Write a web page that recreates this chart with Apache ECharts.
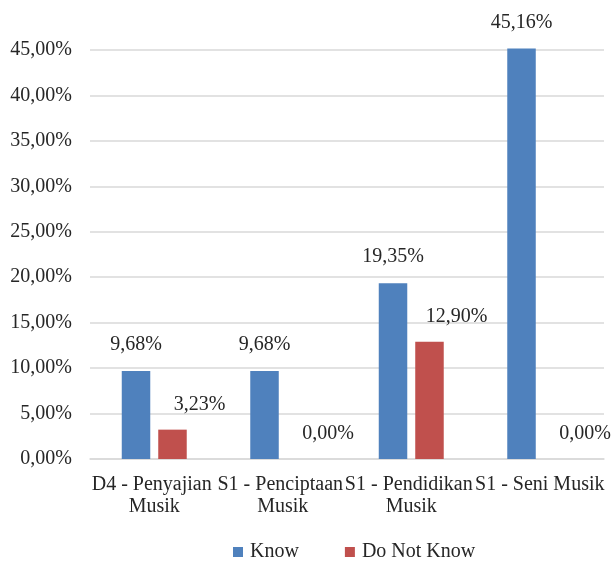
<!DOCTYPE html>
<html>
<head>
<meta charset="utf-8">
<script src="https://cdn.jsdelivr.net/npm/echarts@6/dist/echarts.min.js"></script>
<style>html,body{margin:0;padding:0;background:#fff}#c{width:613px;height:564px}</style>
</head>
<body>
<div id="c"></div>
<script>
const categories = ["D4 - Penyajian Musik", "S1 - Penciptaan Musik", "S1 - Pendidikan Musik", "S1 - Seni Musik"];
const knowValues = [9.68, 9.68, 19.35, 45.16];
const doNotKnowValues = [3.23, 0.00, 12.90, 0.00];
const seriesNames = ["Know", "Do Not Know"];
const yTicks = [0, 5, 10, 15, 20, 25, 30, 35, 40, 45];

const FONT = '"Liberation Serif", "DejaVu Serif", serif';
const fmt = v => v.toFixed(2).replace('.', ',') + '%';

const chart = echarts.init(document.getElementById('c'), null, {renderer: 'canvas'});
chart.setOption({
  animation: false,
  backgroundColor: '#ffffff',
  textStyle: {fontFamily: FONT, color: '#262626'},
  grid: {left: 90, right: 9, top: 50, bottom: 105, containLabel: false},
  legend: {
    data: seriesNames,
    left: 228,
    top: 540,
    padding: [2, 5, 2, 5],
    icon: 'rect',
    itemWidth: 10,
    itemHeight: 10,
    itemGap: 46,
    textStyle: {fontFamily: FONT, fontSize: 20, color: '#262626', padding: [0, 0, 0, 2]}
  },
  xAxis: {
    type: 'category',
    data: categories,
    axisTick: {show: false},
    axisLine: {lineStyle: {color: '#D9D9D9', width: 1.5}},
    axisLabel: {
      interval: 0,
      fontFamily: FONT,
      fontSize: 20,
      color: '#262626',
      lineHeight: 22,
      margin: 15,
      width: 140,
      overflow: 'break'
    }
  },
  yAxis: {
    type: 'value',
    min: yTicks[0],
    max: yTicks[yTicks.length - 1],
    interval: 5,
    axisLine: {show: false},
    axisTick: {show: false},
    splitLine: {lineStyle: {color: '#D9D9D9', width: 1.5}},
    axisLabel: {
      fontFamily: FONT,
      fontSize: 20,
      color: '#262626',
      margin: 18,
      formatter: v => fmt(v)
    }
  },
  series: [
    {
      name: seriesNames[0],
      type: 'bar',
      data: knowValues,
      barWidth: 28.5,
      barGap: '28%',
      clip: false,
      itemStyle: {color: '#4F81BD'},
      label: {
        show: true,
        position: 'top',
        distance: 16,
        fontFamily: FONT,
        fontSize: 20,
        color: '#262626',
        formatter: p => fmt(p.value)
      }
    },
    {
      name: seriesNames[1],
      type: 'bar',
      data: doNotKnowValues,
      barWidth: 28.5,
      barGap: '28%',
      clip: false,
      itemStyle: {color: '#C0504D'},
      label: {
        show: true,
        position: 'top',
        distance: 15,
        offset: [27, 0],
        fontFamily: FONT,
        fontSize: 20,
        color: '#262626',
        formatter: p => fmt(p.value)
      }
    }
  ]
});
</script>
</body>
</html>
